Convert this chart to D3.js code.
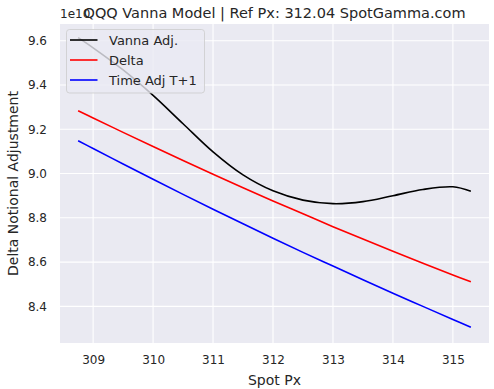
<!DOCTYPE html>
<html>
<head>
<meta charset="utf-8">
<script src="https://cdn.jsdelivr.net/npm/d3@7"></script>
<style>
  body { margin: 0; background: #ffffff; }
  svg { display: block; font-family: "DejaVu Sans", sans-serif; }
</style>
</head>
<body>
<svg id="chart" width="494" height="389"></svg>
<script>
// ---- data (values in units of 1e10) ----
const spotPx = [308.75, 309.0, 309.5, 310.0, 310.5, 311.0, 311.5, 312.0, 312.5, 313.0, 313.5, 314.0, 314.5, 315.0, 315.3];
const vannaAdj = [9.614, 9.568, 9.468, 9.353, 9.225, 9.098, 8.994, 8.922, 8.880, 8.864, 8.873, 8.900, 8.928, 8.940, 8.920];
const delta    = [9.284, 9.251, 9.186, 9.122, 9.059, 8.997, 8.936, 8.876, 8.818, 8.760, 8.704, 8.649, 8.595, 8.542, 8.511];
const timeAdj  = [9.148, 9.113, 9.043, 8.974, 8.906, 8.839, 8.773, 8.708, 8.644, 8.582, 8.520, 8.459, 8.400, 8.341, 8.306];
const xTicks = [309, 310, 311, 312, 313, 314, 315];
const yTicks = [8.4, 8.6, 8.8, 9.0, 9.2, 9.4, 9.6];
const seriesNames = ["Vanna Adj.", "Delta", "Time Adj T+1"];
const seriesColors = ["#000000", "#ff0000", "#0000ff"];
const titleText = "QQQ Vanna Model | Ref Px: 312.04 SpotGamma.com";
const xLabel = "Spot Px";
const yLabel = "Delta Notional Adjustment";
const offsetText = "1e10";

const svg = d3.select("#chart");
const plot = { left: 60, right: 489, top: 24, bottom: 343 };

const x = d3.scaleLinear().domain([308.4475, 315.6025]).range([plot.left, plot.right]);
const y = d3.scaleLinear().domain([8.2346, 9.6754]).range([plot.bottom, plot.top]);

// background
svg.append("rect")
  .attr("x", plot.left).attr("y", plot.top)
  .attr("width", plot.right - plot.left).attr("height", plot.bottom - plot.top)
  .attr("fill", "#eaeaf2");

// grid
const g = svg.append("g");
g.selectAll(".vg").data(xTicks).enter().append("line")
  .attr("x1", d => x(d)).attr("x2", d => x(d))
  .attr("y1", plot.top).attr("y2", plot.bottom)
  .attr("stroke", "#ffffff").attr("stroke-width", 1.1);
g.selectAll(".hg").data(yTicks).enter().append("line")
  .attr("y1", d => y(d)).attr("y2", d => y(d))
  .attr("x1", plot.left).attr("x2", plot.right)
  .attr("stroke", "#ffffff").attr("stroke-width", 1.1);

// axes (via d3 axis generators, no domain lines/ticks)
const xAxis = d3.axisBottom(x).tickValues(xTicks).tickSize(0).tickPadding(12).tickFormat(d3.format("d"));
const yAxis = d3.axisLeft(y).tickValues(yTicks).tickSize(0).tickPadding(13).tickFormat(d3.format(".1f"));
const xa = svg.append("g").attr("transform", `translate(0,${plot.bottom})`).call(xAxis);
const ya = svg.append("g").attr("transform", `translate(${plot.left},0)`).call(yAxis);
[xa, ya].forEach(a => {
  a.select(".domain").remove();
  a.selectAll("text").attr("fill", "#262626").style("font-size", "12px").style("font-family", "DejaVu Sans");
});

// lines
const allSeries = [vannaAdj, delta, timeAdj];
const line = d3.line().x((d, i) => x(spotPx[i])).y(d => y(d)).curve(d3.curveCatmullRom.alpha(0.5));
allSeries.forEach((vals, k) => {
  svg.append("path").datum(vals)
    .attr("d", line)
    .attr("fill", "none")
    .attr("stroke", seriesColors[k])
    .attr("stroke-width", 1.6);
});

// legend
const lg = svg.append("g");
lg.append("rect")
  .attr("x", 66.5).attr("y", 29.5).attr("width", 138).attr("height", 63.5)
  .attr("rx", 3).attr("ry", 3)
  .attr("fill", "#eaeaf2").attr("fill-opacity", 0.8)
  .attr("stroke", "#cccccc").attr("stroke-opacity", 0.8).attr("stroke-width", 1);
seriesNames.forEach((name, k) => {
  const cy = 40 + k * 20;
  lg.append("line").attr("x1", 70).attr("x2", 97.5).attr("y1", cy).attr("y2", cy)
    .attr("stroke", seriesColors[k]).attr("stroke-width", 1.6);
  lg.append("text").attr("x", 109).attr("y", cy).attr("dy", "0.35em")
    .attr("fill", "#262626").style("font-size", "13px").text(name);
});

// title, offset, labels
svg.append("text").attr("x", 60).attr("y", 18)
  .attr("fill", "#262626").style("font-size", "12px").text(offsetText);
svg.append("text").attr("x", (plot.left + plot.right) / 2).attr("y", 18)
  .attr("text-anchor", "middle").attr("fill", "#262626").style("font-size", "14.5px").text(titleText);
svg.append("text").attr("x", (plot.left + plot.right) / 2).attr("y", 385)
  .attr("text-anchor", "middle").attr("fill", "#262626").style("font-size", "14px").text(xLabel);
svg.append("text")
  .attr("transform", `translate(18,${(plot.top + plot.bottom) / 2}) rotate(-90)`)
  .attr("text-anchor", "middle").attr("fill", "#262626").style("font-size", "14px").text(yLabel);
</script>
</body>
</html>
